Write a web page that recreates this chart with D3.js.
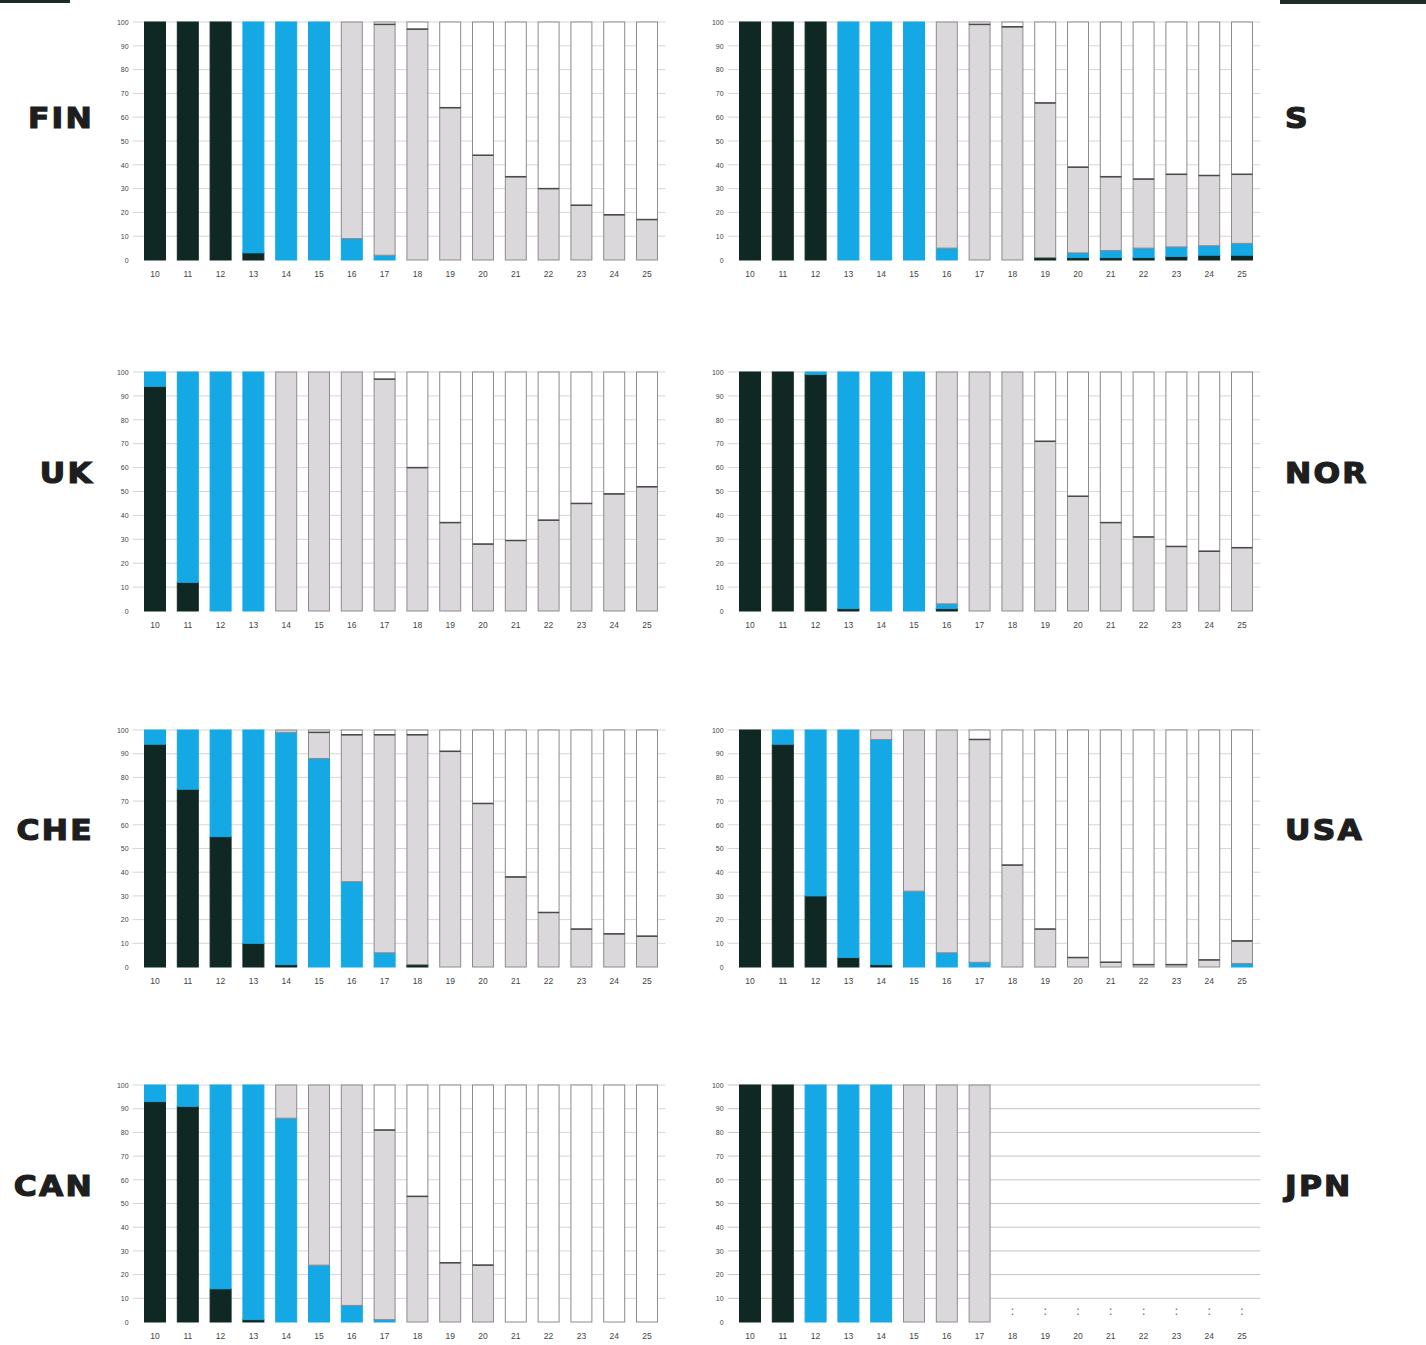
<!DOCTYPE html>
<html>
<head>
<meta charset="utf-8">
<script src="https://cdn.jsdelivr.net/npm/d3@7"></script>
<style>
  html, body { margin: 0; padding: 0; background: #fff; }
  svg { display: block; }
</style>
</head>
<body>
<svg id="chart" width="1426" height="1345"></svg>
<script>
// ---------- DATA ----------
const ages = [10, 11, 12, 13, 14, 15, 16, 17, 18, 19, 20, 21, 22, 23, 24, 25];
const yTicks = [0, 10, 20, 30, 40, 50, 60, 70, 80, 90, 100];
const countries = ["FIN", "S", "UK", "NOR", "CHE", "USA", "CAN", "JPN"];
const seriesNames = ["black", "blue", "gray", "white"];

const finBlack = [100, 100, 100, 3, 0, 0, 0, 0, 0, 0, 0, 0, 0, 0, 0, 0];
const finBlue  = [0, 0, 0, 97, 100, 100, 9, 2, 0, 0, 0, 0, 0, 0, 0, 0];
const finGray  = [0, 0, 0, 0, 0, 0, 91, 97, 97, 64, 44, 35, 30, 23, 19, 17];

const sBlack = [100, 100, 100, 0, 0, 0, 0, 0, 0, 1, 1, 1, 1, 1.5, 2, 2];
const sBlue  = [0, 0, 0, 100, 100, 100, 5, 0, 0, 0, 2, 3, 4, 4, 4, 5];
const sGray  = [0, 0, 0, 0, 0, 0, 95, 99, 98, 65, 36, 31, 29, 30.5, 29.5, 29];

const ukBlack = [94, 12, 0, 0, 0, 0, 0, 0, 0, 0, 0, 0, 0, 0, 0, 0];
const ukBlue  = [6, 88, 100, 100, 0, 0, 0, 0, 0, 0, 0, 0, 0, 0, 0, 0];
const ukGray  = [0, 0, 0, 0, 100, 100, 100, 97, 60, 37, 28, 29.5, 38, 45, 49, 52];

const norBlack = [100, 100, 99, 1, 0, 0, 1, 0, 0, 0, 0, 0, 0, 0, 0, 0];
const norBlue  = [0, 0, 1, 99, 100, 100, 2, 0, 0, 0, 0, 0, 0, 0, 0, 0];
const norGray  = [0, 0, 0, 0, 0, 0, 97, 100, 100, 71, 48, 37, 31, 27, 25, 26.5];

const cheBlack = [94, 75, 55, 10, 1, 0, 0, 0, 1, 0, 0, 0, 0, 0, 0, 0];
const cheBlue  = [6, 25, 45, 90, 98, 88, 36, 6, 0, 0, 0, 0, 0, 0, 0, 0];
const cheGray  = [0, 0, 0, 0, 1, 11, 62, 92, 97, 91, 69, 38, 23, 16, 14, 13];

const usaBlack = [100, 94, 30, 4, 1, 0, 0, 0, 0, 0, 0, 0, 0, 0, 0, 0];
const usaBlue  = [0, 6, 70, 96, 95, 32, 6, 2, 0, 0, 0, 0, 0, 0, 0, 1.5];
const usaGray  = [0, 0, 0, 0, 4, 68, 94, 94, 43, 16, 4, 2, 1, 1, 3, 9.5];

const canBlack = [93, 91, 14, 1, 0, 0, 0, 0, 0, 0, 0, 0, 0, 0, 0, 0];
const canBlue  = [7, 9, 86, 99, 86, 24, 7, 1, 0, 0, 0, 0, 0, 0, 0, 0];
const canGray  = [0, 0, 0, 0, 14, 76, 93, 80, 53, 25, 24, 0, 0, 0, 0, 0];

// JPN: no data for ages 18-25 (shown as ":")
const jpnBlack = [100, 100, 0, 0, 0, 0, 0, 0, null, null, null, null, null, null, null, null];
const jpnBlue  = [0, 0, 100, 100, 100, 0, 0, 0, null, null, null, null, null, null, null, null];
const jpnGray  = [0, 0, 0, 0, 0, 100, 100, 100, null, null, null, null, null, null, null, null];

const missingLabel = ":";

// ---------- LAYOUT ----------
const colors = { black: "#0f2823", blue: "#14a8e4", gray: "#dbd8db", white: "#ffffff" };
const strokes = { black: "#0f2823", blue: "#14a8e4", gray: "#8e8a8e", white: "#8e8a8e" };

const colX = [[138.6, 663.4], [733.6, 1258.4]];
const rowY = [[22, 260], [372, 611], [730, 967], [1085, 1322]];
const labelCY = [118, 473, 830, 1186];
const seriesByCountry = {
  FIN: [finBlack, finBlue, finGray],
  S:   [sBlack, sBlue, sGray],
  UK:  [ukBlack, ukBlue, ukGray],
  NOR: [norBlack, norBlue, norGray],
  CHE: [cheBlack, cheBlue, cheGray],
  USA: [usaBlack, usaBlue, usaGray],
  CAN: [canBlack, canBlue, canGray],
  JPN: [jpnBlack, jpnBlue, jpnGray]
};

const svg = d3.select("#chart");
svg.append("rect").attr("x", 0).attr("y", 0).attr("width", 1426).attr("height", 1345).attr("fill", "#fff");
// scan edge marks at top corners
svg.append("rect").attr("x", 0).attr("y", 0).attr("width", 70).attr("height", 3).attr("fill", "#1d2b28");
svg.append("rect").attr("x", 1280).attr("y", 0).attr("width", 146).attr("height", 4).attr("fill", "#1d2b28");

countries.forEach((name, i) => {
  const col = i % 2, row = Math.floor(i / 2);
  const [x0, x1] = colX[col];
  const [yTop, yBot] = rowY[row];
  const x = d3.scaleBand().domain(ages).range([x0, x1]).paddingInner(0.33).paddingOuter(0.165);
  const y = d3.scaleLinear().domain([0, 100]).range([yBot, yTop]);
  const g = svg.append("g");

  // gridlines
  g.append("g").selectAll("line").data(yTicks.filter(t => t > 0)).join("line")
    .attr("x1", x0 - 6).attr("x2", x1 + 2)
    .attr("y1", d => y(d)).attr("y2", d => y(d))
    .attr("stroke", name === "JPN" ? "#c4c4c4" : "#d6d6d6")
    .attr("stroke-width", 1);

  // y axis
  const yAxis = d3.axisLeft(y).tickValues(yTicks).tickSize(0).tickPadding(0);
  const ya = g.append("g").attr("transform", `translate(${x0 - 10},0)`).call(yAxis);
  ya.select(".domain").remove();
  ya.selectAll("text").attr("font-family", "Liberation Sans, Arial, sans-serif")
    .attr("font-size", 7).attr("fill", "#444");

  // x axis
  const xAxis = d3.axisBottom(x).tickSize(0).tickPadding(0);
  const xa = g.append("g").attr("transform", `translate(0,${yBot + 11})`).call(xAxis);
  xa.select(".domain").remove();
  xa.selectAll("text").attr("font-family", "Liberation Sans, Arial, sans-serif")
    .attr("font-size", 8.5).attr("fill", "#444");

  // stacked data
  const [bk, bl, gr] = seriesByCountry[name];
  const rows = ages.map((a, j) => {
    if (bk[j] === null) return { age: a, missing: true };
    const w = Math.max(0, 100 - bk[j] - bl[j] - gr[j]);
    return { age: a, black: bk[j], blue: bl[j], gray: gr[j], white: w, missing: false };
  });
  const valid = rows.filter(r => !r.missing);
  const stacked = d3.stack().keys(seriesNames)(valid);

  const bars = g.append("g");
  stacked.forEach(layer => {
    const key = layer.key;
    bars.append("g").selectAll("rect").data(layer.filter(d => d[1] - d[0] > 0)).join("rect")
      .attr("x", d => x(d.data.age) + 0.5)
      .attr("width", x.bandwidth() - 1)
      .attr("y", d => y(d[1]))
      .attr("height", d => y(d[0]) - y(d[1]))
      .attr("fill", colors[key])
      .attr("stroke", strokes[key])
      .attr("stroke-width", 1);
  });
  // darker edge at top of gray segment
  const grayLayer = stacked.find(l => l.key === "gray");
  const whiteLayer = stacked.find(l => l.key === "white");
  bars.append("g").selectAll("line")
    .data(grayLayer.filter((d, k) => d[1] - d[0] > 0 && whiteLayer[k][1] - whiteLayer[k][0] > 0))
    .join("line")
    .attr("x1", d => x(d.data.age) + 0.5).attr("x2", d => x(d.data.age) + x.bandwidth() - 0.5)
    .attr("y1", d => y(d[1])).attr("y2", d => y(d[1]))
    .attr("stroke", "#4a4a4a").attr("stroke-width", 1.5);

  // missing markers
  g.append("g").selectAll("text").data(rows.filter(r => r.missing)).join("text")
    .attr("x", d => x(d.age) + x.bandwidth() / 2)
    .attr("y", y(3))
    .attr("text-anchor", "middle")
    .attr("font-family", "DejaVu Sans, sans-serif")
    .attr("font-size", 13).attr("fill", "#777")
    .text(missingLabel);

  // country label
  const lx = col === 0 ? 94 : 1285;
  g.append("g")
    .attr("transform", `translate(${lx},${labelCY[row] + 10}) scale(1.12,1)`)
    .append("text")
    .attr("x", 0).attr("y", 0)
    .attr("text-anchor", col === 0 ? "end" : "start")
    .attr("font-family", "DejaVu Sans, sans-serif")
    .attr("font-weight", "bold")
    .attr("font-size", 28)
    .attr("letter-spacing", 2)
    .attr("fill", "#1e1e1e")
    .attr("stroke", "#1e1e1e").attr("stroke-width", 1.2)
    .text(name);
});
</script>
</body>
</html>
